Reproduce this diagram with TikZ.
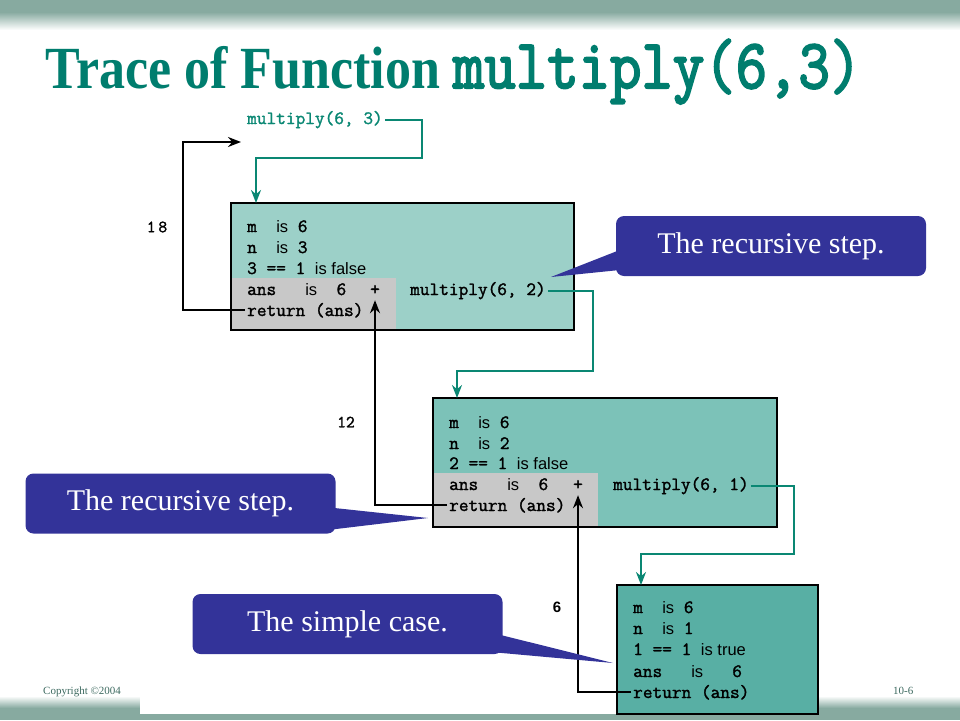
\documentclass[tikz,border=0pt]{standalone}
\usepackage{fontspec}
\setmainfont{Liberation Serif}
\setsansfont{Liberation Sans}
\newfontfamily\codemono[FakeBold=1.6]{Latin Modern Mono}
\newfontfamily\titlemono[FakeBold=3]{Latin Modern Mono}
\usetikzlibrary{%
  arrows.meta,%
  positioning,%
  calc%
}

\definecolor{titleteal}{RGB}{0,125,110}
\definecolor{flowteal}{RGB}{10,135,115}
\definecolor{tealA}{RGB}{156,208,200}
\definecolor{tealB}{RGB}{124,194,184}
\definecolor{tealC}{RGB}{88,175,164}
\definecolor{panelgray}{RGB}{200,200,200}
\definecolor{notefill}{RGB}{51,51,153}
\definecolor{bandteal}{RGB}{135,170,160}
\definecolor{footteal}{RGB}{60,105,95}

\newcommand{\codefont}{\codemono\fontsize{18.8}{22}\selectfont}
\newcommand{\kw}[1]{{\sffamily\fontsize{16.5}{20}\selectfont #1}}

\begin{document}
\begin{tikzpicture}[
  x=1pt, y=-1pt,
  >={Stealth[length=13pt,width=10pt]},
  panel/.style={rectangle, anchor=north west, inner sep=0pt},
  shadebox/.style={rectangle, anchor=south west, inner sep=0pt, fill=panelgray, minimum width=165pt},
  border/.style={draw=black, line width=2pt},
  code/.style={anchor=base west, inner sep=2pt, font=\codefont},
  plus/.style={anchor=base, inner sep=5pt, font=\codefont},
  tally/.style={inner sep=0pt, font=\codemono\fontsize{17}{20}\selectfont},
  flow/.style={draw=flowteal, line width=2pt, ->},
  ret/.style={draw=black, line width=2pt, ->},
  note/.style={rectangle, rounded corners=8pt, fill=notefill, text=white, inner sep=0pt,
    minimum width=310pt, minimum height=60pt, font=\fontsize{30}{34}\selectfont}
]
\useasboundingbox (0,0) rectangle (960,720);

% slide bands
\fill[bandteal] (0,0) rectangle (960,12);
\shade[top color=bandteal, bottom color=white] (0,12) rectangle (960,30);
\shade[top color=white, bottom color=bandteal] (0,696) rectangle (960,708);
\fill[bandteal] (0,708) rectangle (960,720);
\fill[white] (140,660) rectangle (617,714);

% title
\node[anchor=base west, inner sep=0pt, text=titleteal] (title) at (45,88)
  {\scalebox{1}[1.15]{\fontsize{52}{60}\selectfont\bfseries Trace of Function
   {\titlemono\fontsize{61}{66}\selectfont multiply(6,3)}}};

% first call
\node[code, text=flowteal] (call1) at (245,124) {multiply(6, 3)};
\coordinate (loop0) at (183,142);
\coordinate (back0) at (241,142);

% frame 1
\node[panel, fill=tealA, minimum width=343pt, minimum height=127pt] (frame1) at (231,203) {};
\node[shadebox, minimum height=52pt] (gray1) at (frame1.south west) {};
\draw[border] (frame1.south west) rectangle (frame1.north east);
\node[code] (m1) at (245,232) {m\ \ \kw{is}\ 6};
\node[code] (n1) at (245,253) {n\ \ \kw{is}\ 3};
\node[code] (t1) at (245,274) {3 == 1\ \kw{is false}};
\node[code] (a1) at (245,295) {ans\ \ \ \kw{is}\ \ 6};
\node[plus] (plus1) at (375,295) {+};
\node[code] (ret1) at (245,316) {return (ans)};
\node[code] (rec1) at (408,295) {multiply(6, 2)};

% frame 2
\node[panel, fill=tealB, minimum width=344pt, minimum height=129pt] (frame2) at (433,398) {};
\node[shadebox, minimum height=54pt] (gray2) at (frame2.south west) {};
\draw[border] (frame2.south west) rectangle (frame2.north east);
\node[code] (m2) at (447,428) {m\ \ \kw{is}\ 6};
\node[code] (n2) at (447,449) {n\ \ \kw{is}\ 2};
\node[code] (t2) at (447,469) {2 == 1\ \kw{is false}};
\node[code] (a2) at (447,490) {ans\ \ \ \kw{is}\ \ 6};
\node[plus] (plus2) at (578,490) {+};
\node[code] (ret2) at (447,511) {return (ans)};
\node[code] (rec2) at (611,490) {multiply(6, 1)};

% frame 3
\node[panel, fill=tealC, minimum width=201pt, minimum height=129pt] (frame3) at (617,585) {};
\draw[border] (frame3.south west) rectangle (frame3.north east);
\node[code] (m3) at (631,613) {m\ \ \kw{is}\ 6};
\node[code] (n3) at (631,634) {n\ \ \kw{is}\ 1};
\node[code] (t3) at (631,655) {1 == 1\ \kw{is true}};
\node[code] (a3) at (631,677) {ans\ \ \ \kw{is}\ \ \ 6};
\node[code] (ret3) at (631,698) {return (ans)};

% returned values
\node[tally] (v18) at (157,227) {1\,8};
\node[tally] (v12) at (346,422) {12};
\node[tally, font=\sffamily\bfseries\fontsize{15}{18}\selectfont] (v6) at (557,607) {6};

% calls
\draw[flow] (call1.east) -| ++(37,38) -| ($(frame1.north west)+(25,0)$);
\draw[flow] (rec1.east) -| ++(45,80) -| ($(frame2.north west)+(24,0)$);
\draw[flow] (rec2.east) -| ++(43,68) -| ($(frame3.north west)+(24,0)$);

% returns
\draw[ret] (ret3.west) -| (plus2.south);
\draw[ret] (ret2.west) -| (plus1.south);
\draw[ret] (ret1.west) -| (loop0) -- (back0);

% callouts
\node[note] (note1) at (771,246) {The recursive step.};
\coordinate (tip1) at (551,277);
\fill[notefill] ($(note1.west)+(4,4)$) -- (tip1) -- ($(note1.west)+(4,24)$) -- cycle;

\node[note] (note2) at (180.5,503.5) {The recursive step.};
\coordinate (tip2) at (428,518);
\fill[notefill] ($(note2.east)+(-6,4)$) -- (tip2) -- ($(note2.east)+(-12,27)$) -- cycle;

\node[note] (note3) at (347.5,624) {The simple case.};
\coordinate (tip3) at (613,663);
\fill[notefill] ($(note3.east)+(-6,10)$) -- (tip3) -- ($(note3.east)+(-12,28)$) -- cycle;

% footer
\node[anchor=base west, inner sep=0pt, text=footteal, font=\fontsize{11}{13}\selectfont] (copy) at (43,694) {Copyright \textcopyright2004};
\node[anchor=base west, inner sep=0pt, text=footteal, font=\fontsize{11}{13}\selectfont] (page) at (893,694) {10-6};
\end{tikzpicture}
\end{document}
